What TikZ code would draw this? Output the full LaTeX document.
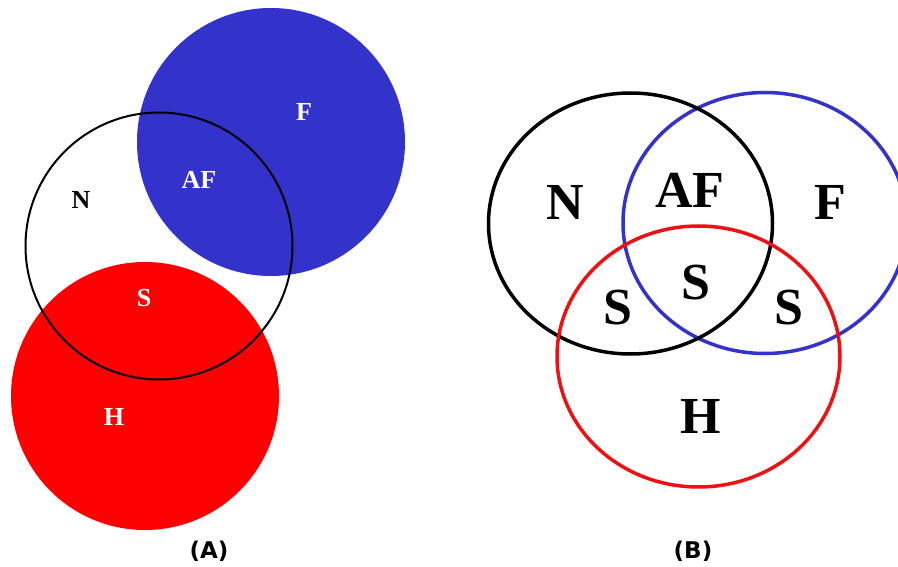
\documentclass[tikz,border=0pt]{standalone}
\usepackage{fontspec}
\setmainfont{Liberation Serif}
\newfontfamily\panelfont{DejaVu Sans}
\definecolor{setblue}{RGB}{51,51,204}
\definecolor{setred}{RGB}{255,0,0}
\definecolor{rimred}{RGB}{238,17,17}

\begin{document}
\begin{tikzpicture}[x=1pt, y=-1pt,
        small/.style = {font=\fontsize{26}{26}\selectfont\bfseries, inner sep=0pt},
        big/.style = {font=\fontsize{52}{52}\selectfont\bfseries, inner sep=0pt},
        panel/.style = {font=\fontsize{23}{23}\selectfont\panelfont\bfseries, inner sep=0pt},
        rim/.style = {line width=3.5pt}]
            \useasboundingbox (0,0) rectangle (898,567);

            % panel (A): filled sets, N only outlined
            \fill[setblue] (271,142) circle (134pt);
            \fill[setred] (145,396) circle (134pt);
            \draw[line width=2pt] (159,246) circle (133.5pt);

            \node[small, white] (fA) at (304,112) {F};
            \node[small, white] (afA) at (199,180) {AF};
            \node[small] (nA) at (81,200) {N};
            \node[small, white] (sA) at (144,298) {S};
            \node[small, white] (hA) at (114,417) {H};
            \node[panel] (capA) at (209,551) {(A)};

            % panel (B): three outlines
            \draw[rim, setblue] (765,223) ellipse (142pt and 130.5pt);
            \draw[rim] (630.5,223.5) ellipse (142pt and 130.5pt);
            \draw[rim, rimred] (698.5,356.5) ellipse (141.5pt and 130.5pt);

            \node[big] (nB) at (565,202) {N};
            \node[big] (afB) at (690,190) {AF};
            \node[big] (fB) at (830,202) {F};
            \node[big] (sB) at (696,283) {S};
            \node[big] (sBl) at (618,308) {S};
            \node[big] (sBr) at (789,308) {S};
            \node[big] (hB) at (701,416) {H};
            \node[panel] (capB) at (693,551) {(B)};
        \end{tikzpicture}
\end{document}
